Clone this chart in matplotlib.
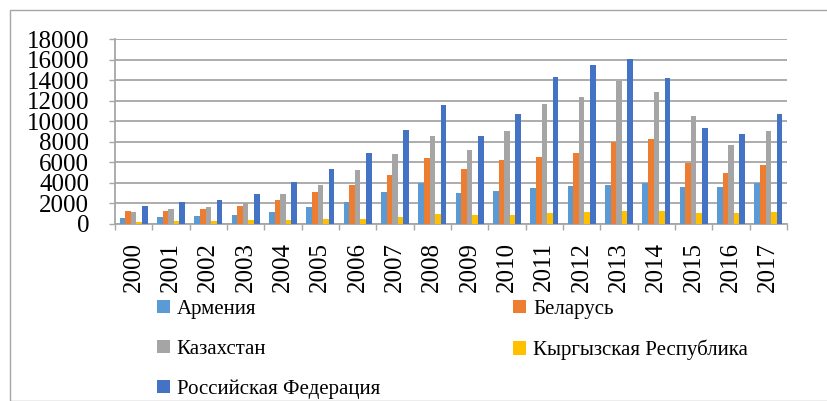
import matplotlib
matplotlib.use("Agg")
import matplotlib.pyplot as plt
import numpy as np
from matplotlib.patches import Rectangle

years = [str(y) for y in range(2000, 2018)]
series_names = ["Армения", "Беларусь", "Казахстан", "Кыргызская Республика", "Российская Федерация"]
armenia = [600, 680, 780, 910, 1170, 1620, 2140, 3110, 3990, 2980, 3180, 3500, 3660, 3820, 3990, 3600, 3600, 3950]
belarus = [1260, 1230, 1460, 1780, 2330, 3110, 3830, 4730, 6390, 5350, 6190, 6520, 6900, 7970, 8300, 5930, 4990, 5700]
kazakhstan = [1200, 1460, 1650, 2040, 2880, 3760, 5280, 6770, 8520, 7160, 9080, 11640, 12380, 13900, 12840, 10500, 7680, 9010]
kyrgyz = [230, 260, 290, 390, 420, 490, 520, 680, 940, 840, 840, 1100, 1170, 1260, 1260, 1100, 1100, 1200]
russia = [1750, 2100, 2330, 2950, 4080, 5320, 6900, 9110, 11600, 8560, 10660, 14330, 15460, 16010, 14160, 9370, 8750, 10730]
colors = ["#5B9BD5", "#ED7D31", "#A5A5A5", "#FFC000", "#4472C4"]
yticks = list(range(0, 18001, 2000))

plt.rcParams['font.family'] = ['Liberation Serif', 'DejaVu Serif']

W, H = 827, 401
fig = plt.figure(figsize=(W / 100, H / 100), dpi=100)
ax = fig.add_axes([115 / W, 1 - 224 / H, (787 - 115) / W, (224 - 39) / H])

data = [armenia, belarus, kazakhstan, kyrgyz, russia]
x = np.arange(len(years))
bw = 0.15
handles = []
for i, (vals, c, name) in enumerate(zip(data, colors, series_names)):
    b = ax.bar(x + (i - 2) * bw, vals, width=bw, color=c, label=name, zorder=3)
    handles.append(b)

ax.set_xlim(-0.5, len(years) - 0.5)
ax.set_ylim(0, 18000)
ax.set_yticks(yticks)
ax.set_yticklabels([str(v) for v in yticks], fontsize=18)
ax.yaxis.grid(True, color="#a6a6a6", linewidth=1.3, zorder=0)
ax.set_xticks(np.arange(len(years) + 1) - 0.5, minor=False)
ax.set_xticklabels([])
ax.set_xticks(x, minor=True)
ax.set_xticklabels(years, minor=True, rotation=90, fontsize=18)
ax.tick_params(axis="x", which="major", length=4.5, color="#a6a6a6", width=1)
ax.tick_params(axis="x", which="minor", length=0, pad=13)
ax.tick_params(axis="y", length=4.5, color="#a6a6a6", width=1, pad=14)
for s in ["top", "right"]:
    ax.spines[s].set_visible(False)
ax.spines["left"].set_color("#a6a6a6")
ax.spines["bottom"].set_color("#a6a6a6")
ax.spines["left"].set_linewidth(1.3)
ax.spines["bottom"].set_linewidth(1.3)

order = [0, 2, 4, 1, 3]
leg = fig.legend([handles[i] for i in order], [series_names[i] for i in order],
                 ncol=2, loc="upper left", bbox_to_anchor=(157 / W, 1 - 300 / H),
                 frameon=False, fontsize=15, handlelength=0.6, handleheight=0.6,
                 handletextpad=0.35, columnspacing=6.4, labelspacing=1.0,
                 borderaxespad=0, borderpad=0)

fig.patches.append(Rectangle((9.5 / W, 0), 1.0, 1 - 9.5 / H, transform=fig.transFigure,
                             fill=False, edgecolor="#a6a6a6", linewidth=1.0))

fig.savefig("out.png", dpi=100)
